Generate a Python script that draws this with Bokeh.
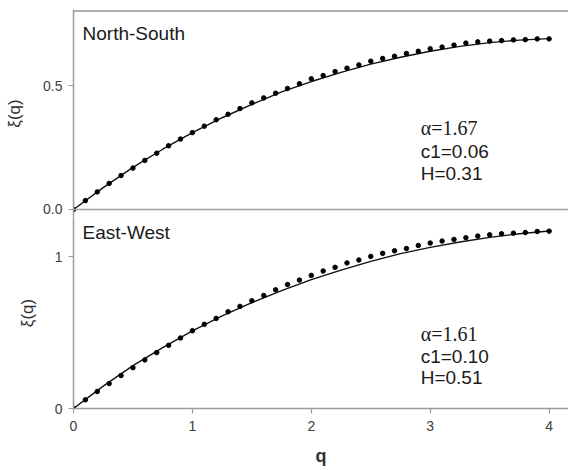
from bokeh.plotting import figure
from bokeh.models import Label, Span, FixedTicker, Range1d
from bokeh.layouts import column
from bokeh.embed import file_html
from bokeh.resources import INLINE

# ---------------- data ----------------
q_dots = [0.0, 0.1, 0.2, 0.3, 0.4, 0.5, 0.6, 0.7, 0.8, 0.9,
          1.0, 1.1, 1.2, 1.3, 1.4, 1.5, 1.6, 1.7, 1.8, 1.9,
          2.0, 2.1, 2.2, 2.3, 2.4, 2.5, 2.6, 2.7, 2.8, 2.9,
          3.0, 3.1, 3.2, 3.3, 3.4, 3.5, 3.6, 3.7, 3.8, 3.9, 4.0]

ns_dots = [0.000, 0.036, 0.071, 0.105, 0.137, 0.167, 0.198, 0.227, 0.257, 0.284,
           0.310, 0.336, 0.362, 0.384, 0.407, 0.430, 0.450, 0.469, 0.488, 0.507,
           0.527, 0.540, 0.556, 0.570, 0.583, 0.598, 0.609, 0.618, 0.629, 0.638,
           0.648, 0.655, 0.663, 0.671, 0.676, 0.679, 0.681, 0.684, 0.685, 0.688, 0.688]

ew_dots = [0.000, 0.057, 0.112, 0.164, 0.217, 0.269, 0.320, 0.368, 0.416, 0.464,
           0.512, 0.554, 0.593, 0.637, 0.672, 0.709, 0.744, 0.781, 0.816, 0.845,
           0.876, 0.905, 0.929, 0.958, 0.977, 1.001, 1.021, 1.038, 1.053, 1.073,
           1.089, 1.102, 1.113, 1.124, 1.135, 1.143, 1.150, 1.154, 1.158, 1.165, 1.167]

q_line = [0.0, 0.25, 0.5, 0.75, 1.0, 1.25, 1.5, 1.75, 2.0,
          2.25, 2.5, 2.75, 3.0, 3.25, 3.5, 3.75, 4.0]
ns_line = [0.000, 0.088, 0.170, 0.243, 0.310, 0.370, 0.424, 0.474, 0.516,
           0.553, 0.586, 0.614, 0.638, 0.658, 0.673, 0.683, 0.689]
ew_line = [0.000, 0.147, 0.282, 0.401, 0.511, 0.609, 0.697, 0.776, 0.848,
           0.911, 0.968, 1.019, 1.060, 1.096, 1.126, 1.150, 1.168]

x_ticks = [0, 1, 2, 3, 4]
x_tick_labels = ["0", "1", "2", "3", "4"]
ns_y_ticks = [0.0, 0.5]
ns_y_tick_labels = ["0.0", "0.5"]
ew_y_ticks = [0.0, 1.0]
ew_y_tick_labels = ["0", "1"]

ns_title = "North-South"
ew_title = "East-West"
ns_params = ["\u03b1=1.67", "c1=0.06", "H=0.31"]
ew_params = ["\u03b1=1.61", "c1=0.10", "H=0.51"]

# ---------------- styling ----------------
SANS = "Liberation Sans"
SERIF = "Liberation Serif"
AXIS_GRAY = "#9a9a9a"
TICK_TXT = "#404040"


def style_yaxis(p, ticks, labels, standoff):
    ax = p.yaxis[0]
    ax.ticker = FixedTicker(ticks=ticks)
    ax.major_label_overrides = {t: l for t, l in zip(ticks, labels)}
    ax.minor_tick_line_color = None
    ax.major_tick_in = 0
    ax.major_tick_out = 5
    ax.axis_line_color = AXIS_GRAY
    ax.axis_line_width = 1.5
    ax.major_tick_line_color = AXIS_GRAY
    ax.major_tick_line_width = 1.2
    ax.major_label_text_font = SANS
    ax.major_label_text_font_size = "14px"
    ax.major_label_text_color = TICK_TXT
    ax.major_label_standoff = 6
    ax.axis_label = "\u03be(q)"
    ax.axis_label_text_font = SANS
    ax.axis_label_text_font_size = "17px"
    ax.axis_label_text_font_style = "normal"
    ax.axis_label_text_color = "#333333"
    ax.axis_label_standoff = standoff


def base_fig(height, y_start, y_end, border_top, border_bottom):
    p = figure(width=568, height=height, output_backend="svg", toolbar_location=None,
               x_range=Range1d(0, 4.163), y_range=Range1d(y_start, y_end),
               min_border_left=73, min_border_right=0,
               min_border_top=border_top, min_border_bottom=border_bottom)
    p.grid.visible = False
    p.outline_line_color = None
    p.background_fill_color = "white"
    p.border_fill_color = "white"
    return p


# ---- top panel: North-South ----
p1 = base_fig(217, -0.0323, 0.8065, 9, 0)
p1.xaxis.visible = False
style_yaxis(p1, ns_y_ticks, ns_y_tick_labels, 16)
p1.add_layout(Span(location=0.8, dimension="width", line_color="#b0b0b0", line_width=2))
p1.add_layout(Span(location=0.0, dimension="width", line_color="#a0a0a0", line_width=1.5))
p1.line(q_line, ns_line, line_color="#111111", line_width=1.4)
p1.scatter(q_dots, ns_dots, size=4.5, color="black")
p1.add_layout(Label(x=0.076, y=0.71, text=ns_title, text_font=SANS, text_font_size="19px",
                    text_baseline="middle", text_color="#1a1a1a"))
for txt, yy, fnt in zip(ns_params, [0.327, 0.232, 0.145], [SERIF, SANS, SANS]):
    p1.add_layout(Label(x=2.92, y=yy, text=txt, text_font=fnt,
                        text_font_size="20px" if fnt == SERIF else "19px",
                        text_baseline="middle", text_color="#1a1a1a"))

# ---- bottom panel: East-West ----
p2 = base_fig(253, 0, 1.257, 0, 62)
style_yaxis(p2, ew_y_ticks, ew_y_tick_labels, 15)
xa = p2.xaxis[0]
xa.ticker = FixedTicker(ticks=x_ticks)
xa.major_label_overrides = {t: l for t, l in zip(x_ticks, x_tick_labels)}
xa.minor_tick_line_color = None
xa.major_tick_in = 0
xa.major_tick_out = 5
xa.axis_line_color = AXIS_GRAY
xa.axis_line_width = 1.5
xa.major_tick_line_color = AXIS_GRAY
xa.major_tick_line_width = 1.2
xa.major_label_text_font = SANS
xa.major_label_text_font_size = "14px"
xa.major_label_text_color = TICK_TXT
xa.major_label_standoff = 7
xa.axis_label = "q"
xa.axis_label_text_font = SANS
xa.axis_label_text_font_size = "18px"
xa.axis_label_text_font_style = "bold"
xa.axis_label_text_color = "#333333"
xa.axis_label_standoff = 12

p2.line(q_line, ew_line, line_color="#111111", line_width=1.4)
p2.scatter(q_dots, ew_dots, size=4.5, color="black")
p2.add_layout(Label(x=0.076, y=1.156, text=ew_title, text_font=SANS, text_font_size="19px",
                    text_baseline="middle", text_color="#1a1a1a"))
for txt, yy, fnt in zip(ew_params, [0.492, 0.341, 0.204], [SERIF, SANS, SANS]):
    p2.add_layout(Label(x=2.92, y=yy, text=txt, text_font=fnt,
                        text_font_size="20px" if fnt == SERIF else "19px",
                        text_baseline="middle", text_color="#1a1a1a"))

layout = column(p1, p2, spacing=0)
open("out.html", "w").write(file_html(layout, INLINE))
